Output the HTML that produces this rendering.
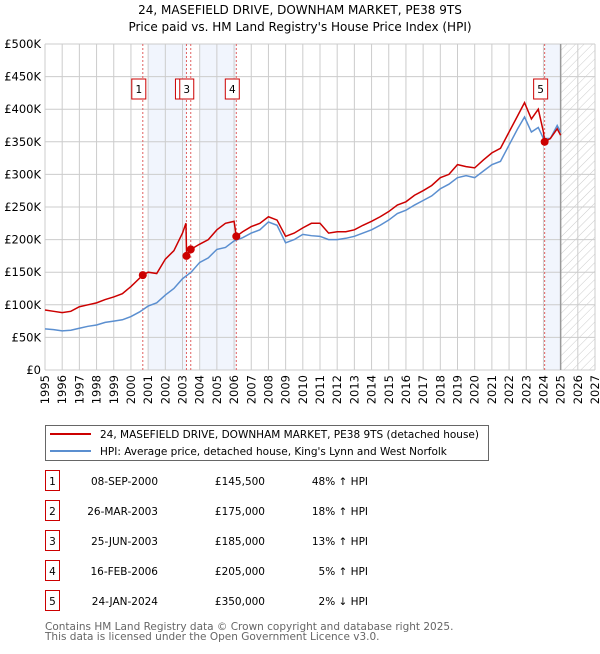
<!DOCTYPE html>
<html><head><meta charset="utf-8"><style>
body{margin:0;background:#fff;font-family:"DejaVu Sans","Liberation Sans",sans-serif;}
svg text{font-family:"DejaVu Sans","Liberation Sans",sans-serif;}
</style></head><body>
<svg id="c" width="600" height="650" xmlns="http://www.w3.org/2000/svg">
<defs><pattern id="hatch" width="6" height="6" patternUnits="userSpaceOnUse" patternTransform="rotate(45)"><line x1="0" y1="0" x2="0" y2="6" stroke="#ccc" stroke-width="1"/></pattern></defs>
<text x="300" y="14" text-anchor="middle" font-size="12">24, MASEFIELD DRIVE, DOWNHAM MARKET, PE38 9TS</text>
<text x="300" y="31" text-anchor="middle" font-size="12">Price paid vs. HM Land Registry's House Price Index (HPI)</text>
<g id="plot"></g>
<g>
<rect x="45.5" y="425.5" width="443" height="35" fill="#fff" stroke="#666"/>
<line x1="50" y1="434" x2="91" y2="434" stroke="#cc0000" stroke-width="2"/>
<text x="100" y="438" font-size="10.5">24, MASEFIELD DRIVE, DOWNHAM MARKET, PE38 9TS (detached house)</text>
<line x1="50" y1="451" x2="91" y2="451" stroke="#5b8fd0" stroke-width="2"/>
<text x="100" y="455" font-size="10.5">HPI: Average price, detached house, King's Lynn and West Norfolk</text>
</g>
<g id="table" font-size="10.5"></g>
<text x="45" y="630" font-size="10.5" fill="#666">Contains HM Land Registry data © Crown copyright and database right 2025.</text>
<text x="45" y="640" font-size="10.5" fill="#666">This data is licensed under the Open Government Licence v3.0.</text>
</svg>
<script>
const hpiYears=[1995,1995.5,1996,1996.5,1997,1997.5,1998,1998.5,1999,1999.5,2000,2000.5,2001,2001.5,2002,2002.5,2003,2003.5,2004,2004.5,2005,2005.5,2006,2006.5,2007,2007.5,2008,2008.5,2009,2009.5,2010,2010.5,2011,2011.5,2012,2012.5,2013,2013.5,2014,2014.5,2015,2015.5,2016,2016.5,2017,2017.5,2018,2018.5,2019,2019.5,2020,2020.5,2021,2021.5,2022,2022.5,2022.9,2023.3,2023.7,2024,2024.4,2024.8,2025];
const hpiValues=[63,62,60,61,64,67,69,73,75,77,82,89,98,103,115,125,140,150,165,172,185,188,198,203,210,215,227,222,195,200,208,206,205,200,200,202,205,210,215,222,230,240,245,253,260,267,278,285,295,298,295,305,315,320,345,370,388,365,372,355,355,375,365];
const paidYears=[1995,1995.5,1996,1996.5,1997,1997.5,1998,1998.5,1999,1999.5,2000,2000.69,2001,2001.5,2002,2002.5,2003,2003.2,2003.24,2003.48,2004,2004.5,2005,2005.5,2006,2006.13,2006.5,2007,2007.5,2008,2008.5,2009,2009.5,2010,2010.5,2011,2011.5,2012,2012.5,2013,2013.5,2014,2014.5,2015,2015.5,2016,2016.5,2017,2017.5,2018,2018.5,2019,2019.5,2020,2020.5,2021,2021.5,2022,2022.5,2022.9,2023.3,2023.7,2024,2024.07,2024.4,2024.8,2025];
const paidValues=[92,90,88,90,97,100,103,108,112,117,128,145.5,150,148,170,183,210,225,175,185,193,200,215,225,228,205,212,220,225,235,230,205,210,218,225,225,210,212,212,215,222,228,235,243,253,258,268,275,283,295,300,315,312,310,322,333,340,365,390,410,385,400,365,350,355,370,360];
const saleYears=[2000.69,2003.23,2003.48,2006.13,2024.07];
const saleValues=[145.5,175,185,205,350];
const saleLabels=["1","2","3","4","5"];
const saleDates=["08-SEP-2000","26-MAR-2003","25-JUN-2003","16-FEB-2006","24-JAN-2024"];
const salePrices=["£145,500","£175,000","£185,000","£205,000","£350,000"];
const saleDiffs=["48% ↑ HPI","18% ↑ HPI","13% ↑ HPI","5% ↑ HPI","2% ↓ HPI"];
const yTicks=[0,50,100,150,200,250,300,350,400,450,500];
const yTickLabels=["£0","£50K","£100K","£150K","£200K","£250K","£300K","£350K","£400K","£450K","£500K"];
const xTicks=[1995,1996,1997,1998,1999,2000,2001,2002,2003,2004,2005,2006,2007,2008,2009,2010,2011,2012,2013,2014,2015,2016,2017,2018,2019,2020,2021,2022,2023,2024,2025,2026,2027];

const NS="http://www.w3.org/2000/svg";
const X0=45,X1=595,Y0=370,Y1=44;
const xs=y=>X0+(y-1995)/(2027-1995)*(X1-X0);
const ys=v=>Y0-v/500*(Y0-Y1);
const plot=document.getElementById('plot');
function mk(tag,attrs,parent){const e=document.createElementNS(NS,tag);for(const k in attrs)e.setAttribute(k,attrs[k]);(parent||plot).appendChild(e);return e;}
[[2001,2003.23],[2004,2006.13],[2024.07,2025]].forEach(b=>{
 const r=mk('rect',{x:xs(b[0]),y:Y1,width:xs(b[1])-xs(b[0]),height:Y0-Y1,fill:'#eef3fc',opacity:0.8});
 
 
});
const hz=mk('rect',{x:xs(2025),y:Y1,width:xs(2027)-xs(2025),height:Y0-Y1,fill:'url(#hatch)'});


yTicks.forEach((t,i)=>{
 mk('line',{x1:X0,x2:X1,y1:ys(t),y2:ys(t),stroke:'#ccc','stroke-width':1});
 const tx=mk('text',{x:X0-4,y:ys(t)+4,'text-anchor':'end','font-size':11.5});
 tx.textContent=yTickLabels[i];
 
 
});
xTicks.forEach(t=>{
 mk('line',{x1:xs(t),x2:xs(t),y1:Y1,y2:Y0,stroke:'#ccc','stroke-width':1});
 const tx=mk('text',{x:0,y:0,'text-anchor':'end','font-size':11.5,transform:`translate(${xs(t)+4},${Y0+5}) rotate(-90)`});
 tx.textContent=t;
 
 
});
mk('line',{x1:xs(2025),x2:xs(2025),y1:Y1,y2:Y0,stroke:'#999','stroke-width':1.5});
saleYears.forEach(s=>{mk('line',{x1:xs(s),x2:xs(s),y1:Y1,y2:Y0,stroke:'#e06060','stroke-width':1,'stroke-dasharray':'2,2'});});
const hp=mk('polyline',{points:hpiYears.map((y,i)=>xs(y)+','+ys(hpiValues[i])).join(' '),fill:'none',stroke:'#5b8fd0','stroke-width':1.5});


const pp=mk('polyline',{points:paidYears.map((y,i)=>xs(y)+','+ys(paidValues[i])).join(' '),fill:'none',stroke:'#cc0000','stroke-width':1.5});


saleYears.forEach((s,i)=>{
 const c=mk('circle',{cx:xs(s),cy:ys(saleValues[i]),r:4,fill:'#cc0000'});
 
 
 const g=mk('g',{});
 
 
 const bx=xs(s)-11;
 mk('rect',{x:bx,y:79,width:14,height:20,fill:'#fff',stroke:'#cc0000'},g);
 const t=mk('text',{x:bx+7,y:93,'text-anchor':'middle','font-size':10.5},g);t.textContent=saleLabels[i];
});
const tb=document.getElementById('table');
saleLabels.forEach((l,i)=>{
 const y=482+i*30;
 const g=mk('g',{},tb);
 
 
 mk('rect',{x:45.5,y:y-11.5,width:14,height:20,fill:'#fff',stroke:'#cc0000'},g);
 const a=mk('text',{x:52.5,y:y+3,'text-anchor':'middle'},g);a.textContent=l;
 const b=mk('text',{x:158,y:y+3,'text-anchor':'end'},g);b.textContent=saleDates[i];
 const c=mk('text',{x:265,y:y+3,'text-anchor':'end'},g);c.textContent=salePrices[i];
 const d=mk('text',{x:368,y:y+3,'text-anchor':'end'},g);d.textContent=saleDiffs[i];
});
</script>
</body></html>
